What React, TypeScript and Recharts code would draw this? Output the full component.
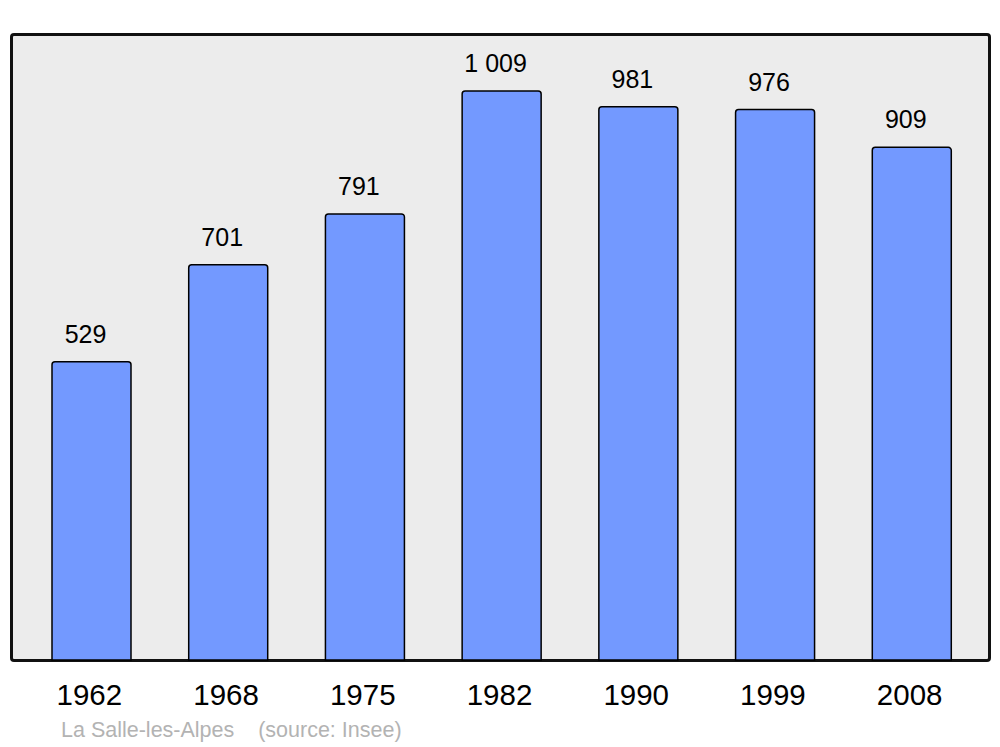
import React from 'react';
import { BarChart, Bar, XAxis, YAxis, LabelList } from 'recharts';

const years = ['1962', '1968', '1975', '1982', '1990', '1999', '2008'];
const population = [529, 701, 791, 1009, 981, 976, 909];
const yMax = 1110;
const caption = 'La Salle-les-Alpes    (source: Insee)';

const data = years.map((y, i) => ({ year: y, pop: population[i] }));

const fmt = (v: number) => String(v).replace(/\B(?=(\d{3})+(?!\d))/g, ' ');

const FONT = '"Liberation Sans", Arial, sans-serif';

const YearTick = (props: any) => {
  const { x, y, payload } = props;
  return (
    <text x={x - 2} y={y + 45} textAnchor="middle" fontFamily={FONT} fontSize={29.5} fill="#000">
      {payload.value}
    </text>
  );
};

const ValueLabel = (props: any) => {
  const { x, y, width, value } = props;
  return (
    <text
      x={Number(x) + Number(width) / 2 - 6}
      y={Number(y) - 19}
      textAnchor="middle"
      fontFamily={FONT}
      fontSize={25}
      fill="#000"
    >
      {fmt(Number(value))}
    </text>
  );
};

export default function App() {
  return (
    <div style={{ position: 'absolute', left: 0, top: 0, width: 1000, height: 747 }}>
      <div
        style={{
          position: 'absolute',
          left: 9.5,
          top: 32.5,
          width: 981,
          height: 629,
          boxSizing: 'border-box',
          border: '3px solid #111',
          borderRadius: 4,
          background: '#ececec',
        }}
      />
      <div style={{ position: 'absolute', left: 0, top: 0 }}>
        <BarChart
          width={1000}
          height={747}
          data={data}
          margin={{ top: 34, right: 11, bottom: 57, left: 11 }}
          barCategoryGap={29}
        >
          <XAxis
            dataKey="year"
            height={30}
            axisLine={false}
            tickLine={false}
            tickSize={0}
            tickMargin={0}
            padding={{ left: 12, right: 9 }}
            tick={<YearTick />}
            interval={0}
          />
          <YAxis hide domain={[0, yMax]} />
          <Bar
            dataKey="pop"
            fill="#7399ff"
            stroke="#000"
            strokeWidth={1.5}
            radius={[3, 3, 0, 0]}
            isAnimationActive={false}
          >
            <LabelList dataKey="pop" content={<ValueLabel />} />
          </Bar>
        </BarChart>
      </div>
      <div
        style={{
          position: 'absolute',
          left: 61,
          top: 717,
          fontFamily: FONT,
          fontSize: 21.5,
          color: '#b3b3b3',
          whiteSpace: 'pre',
          lineHeight: '26px',
        }}
      >
        {caption}
      </div>
    </div>
  );
}
